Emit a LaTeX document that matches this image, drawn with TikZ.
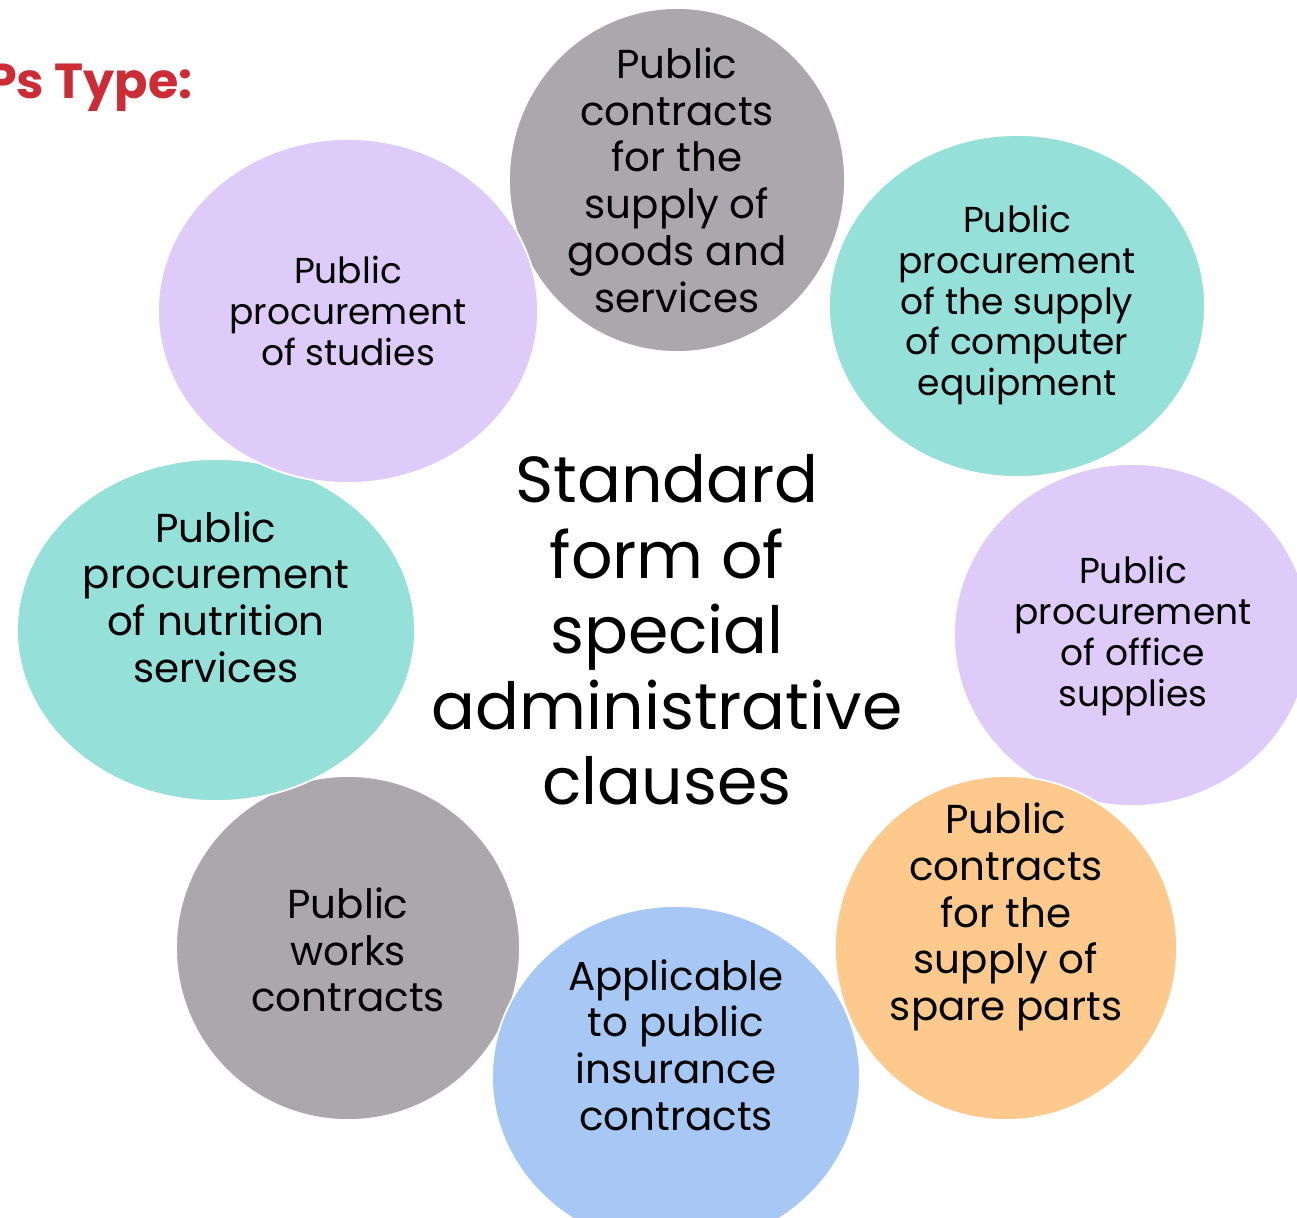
\documentclass[tikz,border=0pt]{standalone}
\usepackage{fontspec}
\setmainfont{Poppins}
\usepackage{xcolor}

\definecolor{bubblegrey}{HTML}{ACA7AD}
\definecolor{bubbleteal}{HTML}{95E0D8}
\definecolor{bubblelilac}{HTML}{DECBFA}
\definecolor{bubbleorange}{HTML}{FEC98C}
\definecolor{bubbleblue}{HTML}{A7C8F4}
\definecolor{titlered}{HTML}{CC2C36}

\tikzset{
  bubble/.style={draw=white,line width=1pt},
  bigtext/.style={align=center,font=\fontsize{23}{26.6}\selectfont},
  smalltext/.style={align=center,font=\fontsize{20.5}{23.2}\selectfont}
}

\begin{document}
\begin{tikzpicture}[x=0.02cm,y=-0.02cm]
\useasboundingbox (0,0) rectangle (1297,1217);
\node[anchor=base west,text=titlered,font=\fontsize{28}{34}\selectfont\bfseries] (title) at (-20,98) {Ps Type:};
\filldraw[bubble,fill=bubblegrey] (677,180) ellipse [x radius=168,y radius=172];
\filldraw[bubble,fill=bubbleteal] (1017,306) ellipse [x radius=188,y radius=171];
\filldraw[bubble,fill=bubblelilac] (1132,635) ellipse [x radius=178,y radius=171];
\filldraw[bubble,fill=bubbleorange] (1006,948) ellipse [x radius=171,y radius=172];
\filldraw[bubble,fill=bubblegrey] (348,948) ellipse [x radius=172,y radius=172];
\filldraw[bubble,fill=bubbleblue] (676,1077) ellipse [x radius=184,y radius=171];
\filldraw[bubble,fill=bubbleteal] (216,630) ellipse [x radius=199,y radius=171];
\filldraw[bubble,fill=bubblelilac] (348,311) ellipse [x radius=190,y radius=172];
\node[bigtext] (goods) at (677,180) {Public\\contracts\\for the\\supply of\\goods and\\services};
\node[smalltext] (computer) at (1017,305) {Public\\procurement\\of the supply\\of computer\\equipment};
\node[smalltext] (office) at (1133,636) {Public\\procurement\\of office\\supplies};
\node[bigtext] (spare) at (1006,917) {Public\\contracts\\for the\\supply of\\spare parts};
\node[bigtext] (insurance) at (676,1045) {Applicable\\to public\\insurance\\contracts};
\node[bigtext] (works) at (348,950) {Public\\works\\contracts};
\node[bigtext] (nutrition) at (216,597) {Public\\procurement\\of nutrition\\services};
\node[smalltext] (studies) at (348,311) {Public\\procurement\\of studies};
\node[align=center,font=\fontsize{37}{43}\selectfont] (clauses) at (667,630) {Standard\\form of\\special\\administrative\\clauses};
\end{tikzpicture}
\end{document}
